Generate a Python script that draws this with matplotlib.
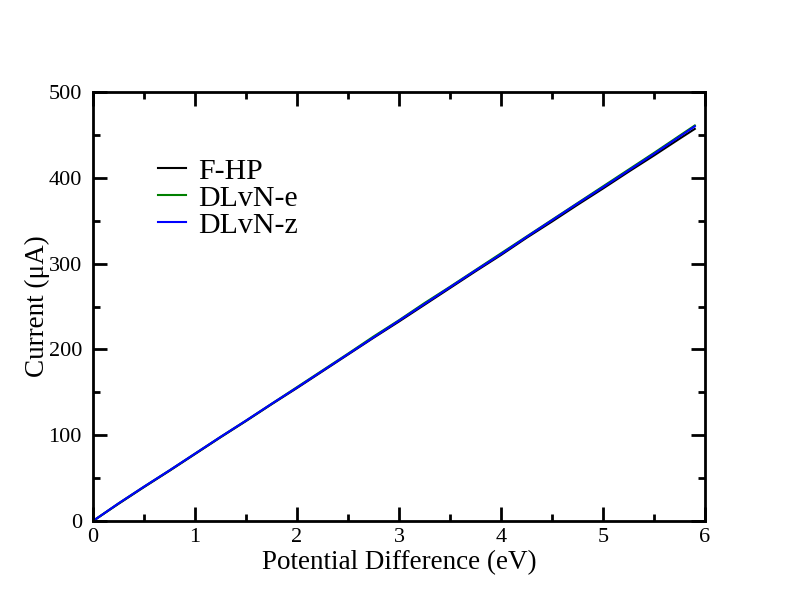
import matplotlib
matplotlib.use("Agg")
import matplotlib.pyplot as plt
from matplotlib.ticker import MultipleLocator

plt.rcParams['font.family'] = ['Liberation Serif', 'DejaVu Serif']

voltage = [0, 0.25, 0.5, 0.75, 1.0, 1.25, 1.5, 1.75, 2.0, 2.25, 2.5, 2.75, 3.0,
           3.25, 3.5, 3.75, 4.0, 4.25, 4.5, 4.75, 5.0, 5.25, 5.5, 5.75, 5.9]
fhp = [0, 20, 39.5, 58.5, 78, 97.5, 116.5, 136, 155, 174.5, 194, 213.5, 232.5,
       252, 271.5, 291, 310, 330, 349, 368.5, 387.5, 407, 426, 445.5, 457]
dlvn_e = [0, 20.5, 40, 59, 78.5, 98, 117, 136.5, 156, 175.5, 195, 215, 234,
          254, 273, 292.5, 312, 331.5, 351, 370.5, 390, 409.5, 429, 449, 461]
dlvn_z = [0, 20.5, 40, 59, 78.5, 98, 117, 136.5, 155.5, 175, 194.5, 214, 233.5,
          253, 272.5, 292, 311, 331, 350.5, 370, 389, 408.5, 428, 448, 460]

fig = plt.figure(figsize=(7.92, 6.12), dpi=100)
ax = fig.add_axes([93/792, 1-521/612, (705-93)/792, (521-92)/612])

ax.plot(voltage, fhp, color='black', lw=1.5, label='F-HP')
ax.plot(voltage, dlvn_e, color='green', lw=1.5, label='DLvN-e')
ax.plot(voltage, dlvn_z, color='blue', lw=1.5, label='DLvN-z')

ax.set_xlim(0, 6)
ax.set_ylim(0, 500)
ax.xaxis.set_major_locator(MultipleLocator(1))
ax.xaxis.set_minor_locator(MultipleLocator(0.5))
ax.yaxis.set_major_locator(MultipleLocator(100))
ax.yaxis.set_minor_locator(MultipleLocator(50))
ax.tick_params(which='both', direction='in', top=True, right=True, width=2,
               labelsize=16)
ax.tick_params(axis='y', pad=8)
ax.tick_params(axis='x', pad=5)
ax.tick_params(which='major', length=10)
ax.tick_params(which='minor', length=5)
for s in ax.spines.values():
    s.set_linewidth(2)

ax.set_xlabel('Potential Difference (eV)', fontsize=19.5, labelpad=2)
ax.set_ylabel('Current (μA)', fontsize=19.5)
ax.yaxis.set_label_coords(-0.07, 0.5)

ax.legend(loc='upper left', bbox_to_anchor=(158/792, 1-158/612),
          bbox_transform=fig.transFigure, frameon=False, fontsize=21.5,
          handlelength=0.94, handletextpad=0.4, labelspacing=0.0,
          borderaxespad=0, borderpad=0)

fig.savefig('out.png', dpi=100)
